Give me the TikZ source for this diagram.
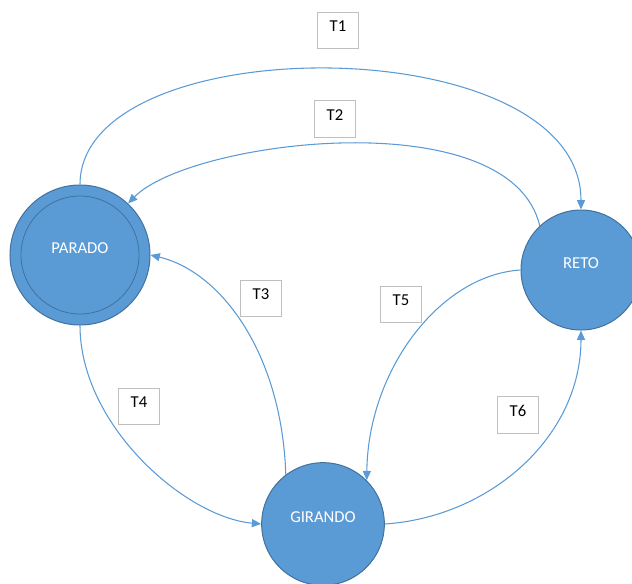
\documentclass[tikz,border=0pt]{standalone}
\usepackage{fontspec}
\setmainfont{Carlito}
\usetikzlibrary{arrows.meta}
\definecolor{stfill}{HTML}{5B9BD5}
\definecolor{stline}{HTML}{41719C}
\definecolor{edgec}{HTML}{5B9BD5}
\definecolor{boxc}{HTML}{BFBFBF}
\tikzset{
  state/.style={circle, fill=stfill, draw=stline, line width=0.75pt, text=white, font=\fontsize{12.5}{14}\selectfont, inner sep=0pt, text depth=11pt},
  inner/.style={circle, draw=stline, line width=0.6pt, minimum size=88.5pt, inner sep=0pt},
  tlabel/.style={draw=boxc, fill=white, line width=0.75pt, minimum width=31pt, minimum height=27.5pt, inner sep=0pt, font=\fontsize{12.5}{14}\selectfont, text depth=6.5pt},
  trans/.style={draw=edgec, line width=0.8pt, -{Triangle[length=7pt,width=6pt]}},
}
\begin{document}
\begin{tikzpicture}[x=0.75pt, y=-0.75pt]
\useasboundingbox (0,0) rectangle (632,583);
\clip (0,0) rectangle (632,583);
\node[state, minimum size=105pt] (parado) at (80,255) {PARADO};
\node[inner] (paradoin) at (parado.center) {};
\node[state, minimum size=90pt] (reto) at (581,270) {RETO};
\node[state, minimum size=92pt] (girando) at (323,524) {GIRANDO};

\node[tlabel] (t1) at (338,30.5) {T1\hspace{3pt}};
\node[tlabel] (t2) at (335,119) {T2\hspace{3pt}};
\node[tlabel] (t3) at (261,298.5) {T3\hspace{3pt}};
\node[tlabel] (t4) at (139,406.5) {T4\hspace{3pt}};
\node[tlabel] (t5) at (401,304.5) {T5\hspace{3pt}};
\node[tlabel] (t6) at (518,415) {T6\hspace{3pt}};

\draw[trans] (parado.90) .. controls +(0,-158) and +(0,-183) .. (reto.90);
\draw[trans] (reto.133) .. controls (510,100) and (190,140) .. (parado.47);
\draw[trans] (girando.127) .. controls (282,355) and (222,272) .. (parado.0);
\draw[trans] (parado.270) .. controls (80,425) and (185,517) .. (girando.180);
\draw[trans] (reto.180) .. controls (440,275) and (368,370) .. (girando.45);
\draw[trans] (girando.0) .. controls (490,517) and (581,437) .. (reto.270);
\end{tikzpicture}
\end{document}
